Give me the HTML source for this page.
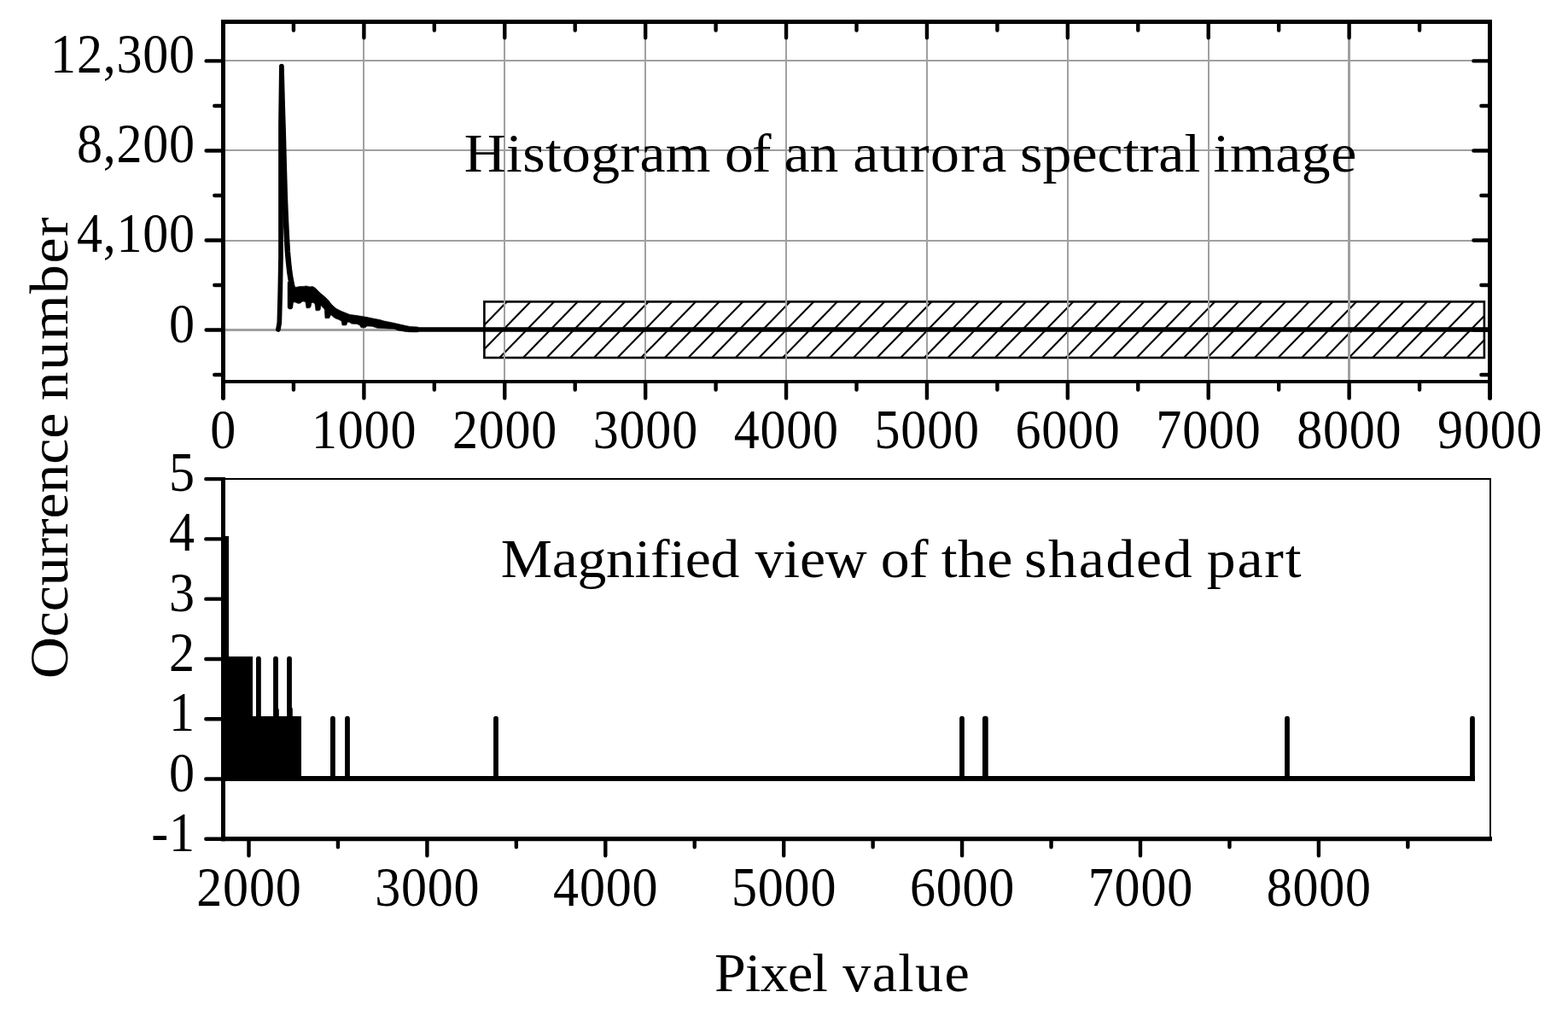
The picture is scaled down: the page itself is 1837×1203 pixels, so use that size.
<!DOCTYPE html>
<html lang="en"><head><meta charset="utf-8"><title>Histogram of an aurora spectral image</title>
<style>html,body{margin:0;padding:0;background:#fff;overflow:hidden}svg{display:block}text{font-family:'Liberation Serif', serif;fill:#000}</style>
</head><body>
<svg width="1837" height="1203" viewBox="0 0 1837 1203">
<rect x="0" y="0" width="1837" height="1203" fill="#fff"/>
<g stroke="#000" stroke-width="2.1" fill="none">
<path d="M567.10 380.99L594.29 353.10M567.10 409.34L621.93 353.10M585.03 419.30L649.58 353.10M612.68 419.30L677.22 353.10M640.32 419.30L704.87 353.10M667.96 419.30L732.51 353.10M695.61 419.30L760.15 353.10M723.25 419.30L787.80 353.10M750.90 419.30L815.44 353.10M778.54 419.30L843.09 353.10M806.18 419.30L870.73 353.10M833.83 419.30L898.37 353.10M861.47 419.30L926.02 353.10M889.12 419.30L953.66 353.10M916.76 419.30L981.31 353.10M944.40 419.30L1008.95 353.10M972.05 419.30L1036.59 353.10M999.69 419.30L1064.24 353.10M1027.34 419.30L1091.88 353.10M1054.98 419.30L1119.53 353.10M1082.62 419.30L1147.17 353.10M1110.27 419.30L1174.81 353.10M1137.91 419.30L1202.46 353.10M1165.56 419.30L1230.10 353.10M1193.20 419.30L1257.75 353.10M1220.84 419.30L1285.39 353.10M1248.49 419.30L1313.03 353.10M1276.13 419.30L1340.68 353.10M1303.78 419.30L1368.32 353.10M1331.42 419.30L1395.97 353.10M1359.06 419.30L1423.61 353.10M1386.71 419.30L1451.25 353.10M1414.35 419.30L1478.90 353.10M1442.00 419.30L1506.54 353.10M1469.64 419.30L1534.19 353.10M1497.28 419.30L1561.83 353.10M1524.93 419.30L1589.47 353.10M1552.57 419.30L1617.12 353.10M1580.22 419.30L1644.76 353.10M1607.86 419.30L1672.41 353.10M1635.50 419.30L1700.05 353.10M1663.15 419.30L1727.69 353.10M1690.79 419.30L1739.20 369.65M1718.44 419.30L1739.20 398.00"/>
</g>
<rect x="567.4" y="353.4" width="1171.5" height="65.6" fill="none" stroke="#000" stroke-width="2.6"/>
<g fill="#a0a0a0" stroke="none" shape-rendering="crispEdges">
<rect x="425" y="26" width="2" height="420"/>
<rect x="590" y="26" width="2" height="420"/>
<rect x="755" y="26" width="2" height="420"/>
<rect x="920" y="26" width="2" height="420"/>
<rect x="1085" y="26" width="2" height="420"/>
<rect x="1250" y="26" width="2" height="420"/>
<rect x="1415" y="26" width="2" height="420"/>
<rect x="1579" y="26" width="3" height="420"/>
<rect x="262" y="70" width="1483" height="2"/>
<rect x="262" y="175" width="1483" height="2"/>
<rect x="262" y="281" width="1483" height="2"/>
<rect x="262" y="385" width="1483" height="3"/>
</g>
<g stroke="#000" fill="none" stroke-linejoin="round" stroke-linecap="round">
<path stroke-width="5.7" d="M325.9 386 L327.3 378 L328.3 340 L329 300 L329 145 L329.9 77.6 L331.2 125 L332.2 157 L333.2 195"/>
<path stroke-width="6.5" d="M332.8 195 L333.8 230 L334.8 255 L335.8 276 L336.9 295 L338.1 308 L339.2 318 L340.4 326 L341.8 333 L343 338"/>
<path stroke-width="5.8" d="M340 335 L340 359"/>
<path stroke-width="5.7" d="M480 386 L1745 386"/>
</g>
<path fill="#000" stroke="#000" stroke-width="0.6" stroke-linejoin="round" d="M337.2 330 L340 333 L342.5 336.6 L345 336.4 L348 336.2 L351 335.6 L356 335.4 L358.5 334.9 L361 335.4 L363 336 L366 335.5 L369 337 L372 340 L375 343 L378 345.5 L381 348 L385 352 L388 356 L391 359 L394 361.5 L397 363 L400 364.5 L405 366.5 L410 368.5 L418 369.5 L424 370.5 L430 371.5 L437 373 L445 374.5 L450 376 L460 378 L470 380.3 L480 382.4 L490 383.1 L490 388.9 L483 388.9 L475 388.5 L470 387.6 L466 387 L462 385.2 L455 385 L448 384.5 L442 384.3 L436 382.3 L430 382 L428.5 383.4 L427 383.8 L423 383.8 L421.5 381 L418 379.5 L412 379.2 L409 377.3 L407 377.3 L406 380.6 L404.5 381 L401 381 L400 376 L396 374 L393 373 L390.5 371.2 L388.5 369.3 L387 369.3 L386 372.4 L384.5 372.8 L381 372.8 L380.2 362 L378 360 L376 357.5 L375.2 362.5 L374 363.8 L370 363.8 L369 356 L367 354.5 L365 354.5 L364 359.5 L362.5 360.8 L359 360.8 L358 354 L356 353 L354 353.2 L352 355 L350 355.5 L348 355 L346 354 L343.5 354 L342.8 360 L341.5 362 L338.5 362 L337.2 360 Z"/>
<g stroke="#000" fill="none" stroke-linecap="butt">
<path stroke-width="5" d="M261.5 23 L261.5 449"/>
<path stroke-width="5" d="M1745.5 23 L1745.5 449"/>
<path stroke-width="5" stroke-linecap="round" d="M261.5 445 L261.5 466.3 M1745.5 445 L1745.5 466.3"/>
<path stroke-width="5" d="M259 25.5 L1748 25.5"/>
<path stroke-width="4" d="M259 447.1 L1748 447.1"/>
</g>
<g stroke="#000" fill="none" stroke-linecap="round" stroke-width="4.4">
<path d="M261.50 448L261.50 466.4M261.50 27L261.50 44.2M343.94 448L343.94 456.5M343.94 27L343.94 35.6M426.39 448L426.39 466.4M426.39 27L426.39 44.2M508.83 448L508.83 456.5M508.83 27L508.83 35.6M591.28 448L591.28 466.4M591.28 27L591.28 44.2M673.72 448L673.72 456.5M673.72 27L673.72 35.6M756.17 448L756.17 466.4M756.17 27L756.17 44.2M838.61 448L838.61 456.5M838.61 27L838.61 35.6M921.06 448L921.06 466.4M921.06 27L921.06 44.2M1003.50 448L1003.50 456.5M1003.50 27L1003.50 35.6M1085.94 448L1085.94 466.4M1085.94 27L1085.94 44.2M1168.39 448L1168.39 456.5M1168.39 27L1168.39 35.6M1250.83 448L1250.83 466.4M1250.83 27L1250.83 44.2M1333.28 448L1333.28 456.5M1333.28 27L1333.28 35.6M1415.72 448L1415.72 466.4M1415.72 27L1415.72 44.2M1498.17 448L1498.17 456.5M1498.17 27L1498.17 35.6M1580.61 448L1580.61 466.4M1580.61 27L1580.61 44.2M1663.06 448L1663.06 456.5M1663.06 27L1663.06 35.6M1745.50 448L1745.50 466.4M1745.50 27L1745.50 44.2M241.6 386.50L260 386.50M1726.4 386.50L1744 386.50M241.6 281.47L260 281.47M1726.4 281.47L1744 281.47M241.6 176.44L260 176.44M1726.4 176.44L1744 176.44M241.6 71.41L260 71.41M1726.4 71.41L1744 71.41M251.3 439.01L260 439.01M1735.4 439.01L1744 439.01M251.3 333.99L260 333.99M1735.4 333.99L1744 333.99M251.3 228.95L260 228.95M1735.4 228.95L1744 228.95M251.3 123.93L260 123.93M1735.4 123.93L1744 123.93"/>
</g>
<g fill="#000" stroke="none" shape-rendering="crispEdges">
<rect x="262.2" y="627.9" width="5.8" height="286"/>
<rect x="262.2" y="768.7" width="33.7" height="146"/>
<rect x="262.2" y="838.9" width="90.6" height="75.9"/>
<rect x="262.2" y="909" width="1465.6" height="5.8"/>
</g>
<g stroke="#000" fill="none" stroke-width="5.8" stroke-linecap="round">
<path d="M302.9 771.6L302.9 900M323 771.6L323 900M339 771.6L339 900M323.9 832L323.9 900M339.9 831L339.9 900M389.9 841.7L389.9 911M407 841.7L407 911M581 841.7L581 911M1127 841.7L1127 911M1153.9 841.7L1153.9 911M1154.8 841.7L1154.8 911M1508 841.7L1508 911M1725 841.7L1725 911"/>
</g>
<g stroke="#000" fill="none">
<path stroke-width="2.2" d="M261 561.1 L1747 561.1" shape-rendering="crispEdges"/>
<path stroke-width="2.4" d="M1746.1 560 L1746.1 985" shape-rendering="crispEdges"/>
<path stroke-width="5" d="M261.5 559 L261.5 985.2"/>
<path stroke-width="5.4" d="M259 982.6 L1748 982.6"/>
</g>
<g stroke="#000" fill="none" stroke-linecap="round" stroke-width="4.4">
<path d="M291.50 984L291.50 1002.2M500.40 984L500.40 1002.2M709.30 984L709.30 1002.2M918.20 984L918.20 1002.2M1127.10 984L1127.10 1002.2M1336.00 984L1336.00 1002.2M1544.90 984L1544.90 1002.2M395.95 984L395.95 992.3M604.85 984L604.85 992.3M813.75 984L813.75 992.3M1022.65 984L1022.65 992.3M1231.55 984L1231.55 992.3M1440.45 984L1440.45 992.3M1649.35 984L1649.35 992.3M241.3 982.78L260 982.78M241.3 912.50L260 912.50M241.3 842.22L260 842.22M241.3 771.94L260 771.94M241.3 701.66L260 701.66M241.3 631.38L260 631.38M241.3 561.10L260 561.10"/>
</g>
<text transform="translate(0 201.20) scale(1.1300 1.0620)" style="font-size:60px"><tspan x="481.26" style="letter-spacing:0.280px">Histogram</tspan> <tspan x="751.38" style="letter-spacing:-1.821px">of</tspan> <tspan x="812.87" style="letter-spacing:-0.122px">an</tspan> <tspan x="884.37" style="letter-spacing:1.224px">aurora</tspan> <tspan x="1057.59" style="letter-spacing:0.050px">spectral</tspan> <tspan x="1258.04" style="letter-spacing:0.449px">image</tspan></text>
<text transform="translate(0 676.20) scale(1.1300 1.0660)" style="font-size:60px"><tspan x="519.31" style="letter-spacing:-0.307px">Magnified</tspan> <tspan x="782.65" style="letter-spacing:-0.102px">view</tspan> <tspan x="913.15" style="letter-spacing:-0.759px">of</tspan> <tspan x="975.87" style="letter-spacing:0.377px">the</tspan> <tspan x="1061.92" style="letter-spacing:1.512px">shaded</tspan> <tspan x="1251.12" style="letter-spacing:1.575px">part</tspan></text>
<text transform="translate(0 1161.30) scale(1.1000 1.0620)" style="font-size:60px"><tspan x="760.98" style="letter-spacing:-0.648px">Pixel</tspan> <tspan x="897.55" style="letter-spacing:1.244px">value</tspan></text>
<text transform="translate(79.30 0) rotate(-90) scale(1.1300 1.0620)" style="font-size:60px"><tspan x="-703.65" style="letter-spacing:-0.076px">Occurrence</tspan> <tspan x="-415.31" style="letter-spacing:1.396px">number</tspan></text>
<text transform="translate(261.70 524.90) scale(1.0000 1.0930)" text-anchor="middle" style="font-size:60px;letter-spacing:0.800px;">0</text>
<text transform="translate(426.59 524.90) scale(1.0000 1.0930)" text-anchor="middle" style="font-size:60px;letter-spacing:0.800px;">1000</text>
<text transform="translate(591.48 524.90) scale(1.0000 1.0930)" text-anchor="middle" style="font-size:60px;letter-spacing:0.800px;">2000</text>
<text transform="translate(756.37 524.90) scale(1.0000 1.0930)" text-anchor="middle" style="font-size:60px;letter-spacing:0.800px;">3000</text>
<text transform="translate(921.26 524.90) scale(1.0000 1.0930)" text-anchor="middle" style="font-size:60px;letter-spacing:0.800px;">4000</text>
<text transform="translate(1086.14 524.90) scale(1.0000 1.0930)" text-anchor="middle" style="font-size:60px;letter-spacing:0.800px;">5000</text>
<text transform="translate(1251.03 524.90) scale(1.0000 1.0930)" text-anchor="middle" style="font-size:60px;letter-spacing:0.800px;">6000</text>
<text transform="translate(1415.92 524.90) scale(1.0000 1.0930)" text-anchor="middle" style="font-size:60px;letter-spacing:0.800px;">7000</text>
<text transform="translate(1580.81 524.90) scale(1.0000 1.0930)" text-anchor="middle" style="font-size:60px;letter-spacing:0.800px;">8000</text>
<text transform="translate(1745.70 524.90) scale(1.0000 1.0930)" text-anchor="middle" style="font-size:60px;letter-spacing:0.800px;">9000</text>
<text transform="translate(228.90 85.41) scale(1.0000 1.0930)" text-anchor="end" style="font-size:60px;letter-spacing:0.800px;">12,300</text>
<text transform="translate(228.90 190.44) scale(1.0000 1.0930)" text-anchor="end" style="font-size:60px;letter-spacing:0.800px;">8,200</text>
<text transform="translate(228.90 295.47) scale(1.0000 1.0930)" text-anchor="end" style="font-size:60px;letter-spacing:0.800px;">4,100</text>
<text transform="translate(228.90 400.50) scale(1.0000 1.0930)" text-anchor="end" style="font-size:60px;letter-spacing:0.800px;">0</text>
<text transform="translate(291.90 1060.80) scale(1.0000 1.0930)" text-anchor="middle" style="font-size:60px;letter-spacing:0.800px;">2000</text>
<text transform="translate(500.80 1060.80) scale(1.0000 1.0930)" text-anchor="middle" style="font-size:60px;letter-spacing:0.800px;">3000</text>
<text transform="translate(709.70 1060.80) scale(1.0000 1.0930)" text-anchor="middle" style="font-size:60px;letter-spacing:0.800px;">4000</text>
<text transform="translate(918.60 1060.80) scale(1.0000 1.0930)" text-anchor="middle" style="font-size:60px;letter-spacing:0.800px;">5000</text>
<text transform="translate(1127.50 1060.80) scale(1.0000 1.0930)" text-anchor="middle" style="font-size:60px;letter-spacing:0.800px;">6000</text>
<text transform="translate(1336.40 1060.80) scale(1.0000 1.0930)" text-anchor="middle" style="font-size:60px;letter-spacing:0.800px;">7000</text>
<text transform="translate(1545.30 1060.80) scale(1.0000 1.0930)" text-anchor="middle" style="font-size:60px;letter-spacing:0.800px;">8000</text>
<text transform="translate(228.90 996.78) scale(1.0000 1.0930)" text-anchor="end" style="font-size:60px;letter-spacing:0.800px;">-1</text>
<text transform="translate(228.90 926.50) scale(1.0000 1.0930)" text-anchor="end" style="font-size:60px;letter-spacing:0.800px;">0</text>
<text transform="translate(228.90 856.22) scale(1.0000 1.0930)" text-anchor="end" style="font-size:60px;letter-spacing:0.800px;">1</text>
<text transform="translate(228.90 785.94) scale(1.0000 1.0930)" text-anchor="end" style="font-size:60px;letter-spacing:0.800px;">2</text>
<text transform="translate(228.90 715.66) scale(1.0000 1.0930)" text-anchor="end" style="font-size:60px;letter-spacing:0.800px;">3</text>
<text transform="translate(228.90 645.38) scale(1.0000 1.0930)" text-anchor="end" style="font-size:60px;letter-spacing:0.800px;">4</text>
<text transform="translate(228.90 575.10) scale(1.0000 1.0930)" text-anchor="end" style="font-size:60px;letter-spacing:0.800px;">5</text>
</svg>
</body></html>
